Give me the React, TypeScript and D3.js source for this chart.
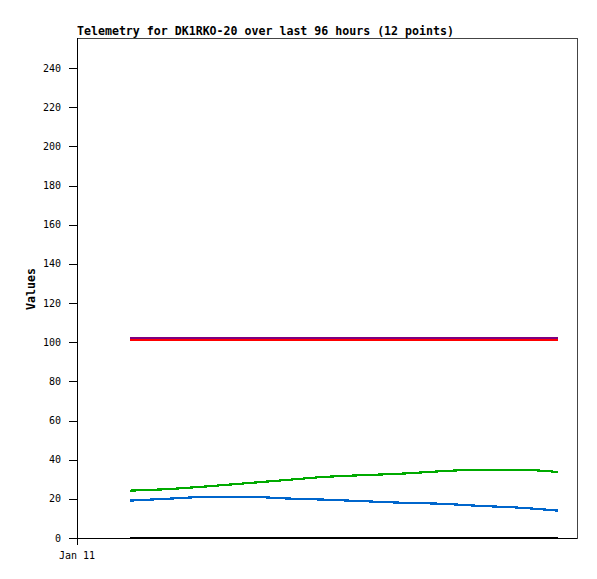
import React, { useEffect, useRef } from 'react';
import * as d3 from 'd3';

// hours since Jan 11 00:00, 96 hour window
const hours = [10.2, 17.7, 25.1, 32.6, 40.1, 47.5, 55.0, 62.5, 69.9, 77.4, 84.9, 92.3];
const purpleVals = [102.1, 102.1, 102.1, 102.1, 102.1, 102.1, 102.1, 102.1, 102.1, 102.1, 102.1, 102.1];
const redVals = [101.1, 101.1, 101.1, 101.1, 101.1, 101.1, 101.1, 101.1, 101.1, 101.1, 101.1, 101.1];
const greenVals = [24.2, 25.0, 26.4, 28.0, 29.6, 31.2, 32.1, 32.9, 34.1, 34.9, 34.9, 33.7];
const blueVals = [19.1, 20.1, 21.0, 21.1, 20.2, 19.6, 18.8, 18.0, 17.5, 16.4, 15.5, 14.0];
const blackVals = [0, 0, 0, 0, 0, 0, 0, 0, 0, 0, 0, 0];
const yTicks = [0, 20, 40, 60, 80, 100, 120, 140, 160, 180, 200, 220, 240];
const xTicks = [{ h: 0, label: 'Jan 11' }];

const series = [
  { name: 'black', color: '#000000', values: blackVals },
  { name: 'blue', color: '#0066cc', values: blueVals },
  { name: 'green', color: '#00aa00', values: greenVals },
  { name: 'red', color: '#ff0000', values: redVals },
  { name: 'purple', color: '#800080', values: purpleVals },
];

const App = () => {
  const ref = useRef<SVGSVGElement>(null);

  useEffect(() => {
    const totalWidth = 597;
    const totalHeight = 579;
    const margin = { top: 38, right: 20, bottom: 41, left: 77 };
    const width = totalWidth - margin.left - margin.right;
    const height = totalHeight - margin.top - margin.bottom;
    const mono = '"DejaVu Sans Mono", monospace';

    const svg = d3.select(ref.current);
    svg.selectAll('*').remove();
    svg.attr('width', totalWidth).attr('height', totalHeight);

    svg.append('rect').attr('width', totalWidth).attr('height', totalHeight).style('fill', '#fff');

    const xScale = d3.scaleLinear().domain([0, 96]).range([0, width]);
    const yScale = d3.scaleLinear().domain([0, 255.4]).range([height, 0]);

    const g = svg.append('g').attr('transform', `translate(${margin.left},${margin.top})`);

    // frame
    g.append('rect')
      .attr('x', 0.5).attr('y', 0.5)
      .attr('width', width).attr('height', height)
      .style('fill', 'none')
      .style('stroke', '#444')
      .style('shape-rendering', 'crispEdges');

    // y axis
    g.append('line')
      .attr('x1', 0.5).attr('x2', 0.5).attr('y1', 0).attr('y2', height + 7)
      .style('stroke', '#000').style('shape-rendering', 'crispEdges');
    g.selectAll('.ytick')
      .data(yTicks)
      .enter().append('line')
      .attr('x1', -8).attr('x2', 0)
      .attr('y1', d => Math.round(yScale(d)) + 0.5)
      .attr('y2', d => Math.round(yScale(d)) + 0.5)
      .style('stroke', '#000').style('shape-rendering', 'crispEdges');
    g.selectAll('.ylabel')
      .data(yTicks)
      .enter().append('text')
      .attr('x', -16)
      .attr('y', d => yScale(d))
      .attr('dy', '0.35em')
      .attr('text-anchor', 'end')
      .style('font-family', mono)
      .style('font-size', '10px')
      .style('fill', '#000')
      .text(d => d);

    // x axis
    g.append('line')
      .attr('x1', -8).attr('x2', width).attr('y1', height + 0.5).attr('y2', height + 0.5)
      .style('stroke', '#000').style('shape-rendering', 'crispEdges');
    g.selectAll('.xlabel')
      .data(xTicks)
      .enter().append('text')
      .attr('x', d => xScale(d.h))
      .attr('y', height + 21)
      .attr('text-anchor', 'middle')
      .style('font-family', mono)
      .style('font-size', '10px')
      .style('fill', '#000')
      .text(d => d.label);

    // series lines
    const line = d3.line<number>()
      .x((d, i) => xScale(hours[i]))
      .y(d => yScale(d))
      .curve(d3.curveMonotoneX);

    series.forEach(s => {
      g.append('path')
        .datum(s.values)
        .attr('d', line)
        .style('fill', 'none')
        .style('stroke', s.color)
        .style('stroke-width', s.name === 'black' ? 2.5 : 2.2)
        .style('shape-rendering', 'crispEdges');
    });

    // title
    svg.append('text')
      .attr('x', margin.left)
      .attr('y', 35)
      .style('font-family', mono)
      .style('font-weight', 'bold')
      .style('font-size', '11.6px')
      .style('fill', '#000')
      .text('Telemetry for DK1RKO-20 over last 96 hours (12 points)');

    // y label
    svg.append('text')
      .attr('transform', 'rotate(-90)')
      .attr('x', -289)
      .attr('y', 35)
      .attr('text-anchor', 'middle')
      .style('font-family', mono)
      .style('font-weight', 'bold')
      .style('font-size', '11.6px')
      .style('fill', '#000')
      .text('Values');
  }, []);

  return (
    <div style={{ position: 'absolute', left: 0, top: 0 }}>
      <svg ref={ref} style={{ display: 'block' }} />
    </div>
  );
};

export default App;
